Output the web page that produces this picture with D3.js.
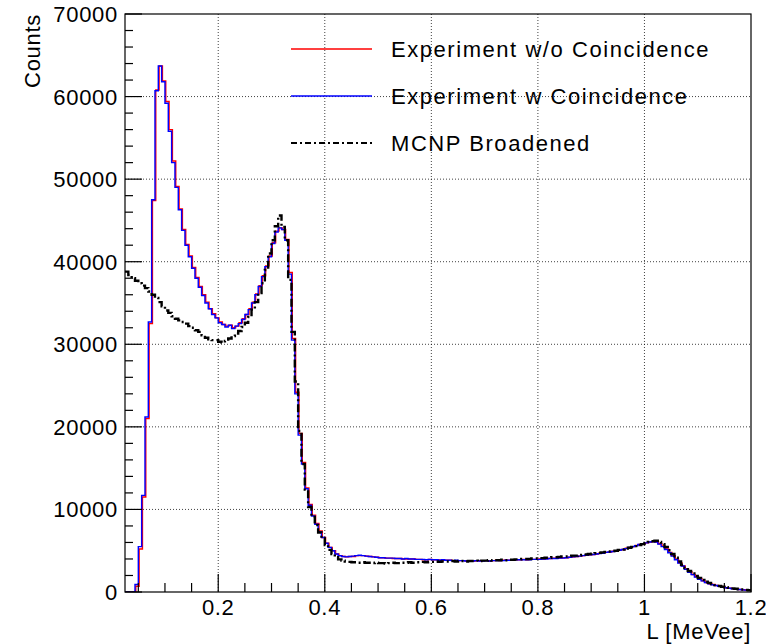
<!DOCTYPE html>
<html>
<head>
<meta charset="utf-8">
<script src="https://cdn.jsdelivr.net/npm/d3@7"></script>
<style>
  html, body { margin: 0; padding: 0; background: #fff; }
  svg { display: block; }
  text { font-family: "Liberation Sans", Arial, Helvetica, sans-serif; fill: #000; }
</style>
</head>
<body>
<svg id="chart" width="766" height="644"></svg>
<script>
// ---- data ----
const binStart = 0.025;       // MeVee, first bin low edge
const binWidth = 0.00625;     // MeVee
const redBinStart = 0.0265;   // slightly shifted calibration of the no-coincidence spectrum

const xTicks = [0.2, 0.4, 0.6, 0.8, 1.0, 1.2];
const xTickLabels = ["0.2", "0.4", "0.6", "0.8", "1", "1.2"];
const yTicks = [0, 10000, 20000, 30000, 40000, 50000, 60000, 70000];
const yTickLabels = ["0", "10000", "20000", "30000", "40000", "50000", "60000", "70000"];

const seriesNames = ["Experiment w/o Coincidence", "Experiment w Coincidence", "MCNP Broadened"];

const expWithCoinc = [
  0, 0, 0, 900, 5500, 11700, 21200, 32700,
  47500, 60700, 63700, 61800, 59200, 55800, 52000, 49000,
  46300, 43800, 42000, 40600, 39200, 38000, 36900, 35900,
  35000, 34300, 33600, 33200, 32600, 32400, 32100, 32300,
  31900, 32200, 32500, 33000, 33600, 34200, 35000, 36000,
  37000, 38200, 39400, 40600, 42200, 43600, 44100, 43900,
  42600, 38500, 30500, 24000, 19000, 15500, 12500, 10500,
  9200, 8200, 7300, 6600, 5900, 5400, 5000, 4600,
  4400, 4300, 4250, 4300, 4350, 4400, 4450, 4400,
  4350, 4300, 4250, 4200, 4150, 4150, 4100, 4100,
  4100, 4050, 4050, 4000, 4050, 4000, 4000, 3950,
  3950, 3950, 3900, 3950, 3900, 3900, 3850, 3900,
  3850, 3850, 3800, 3850, 3800, 3800, 3750, 3800,
  3750, 3800, 3750, 3750, 3800, 3750, 3800, 3800,
  3800, 3800, 3850, 3850, 3850, 3900, 3900, 3900,
  3900, 3900, 3950, 3950, 3950, 4000, 4000, 4050,
  4050, 4050, 4100, 4100, 4150, 4200, 4250, 4300,
  4350, 4400, 4450, 4500, 4550, 4600, 4650, 4700,
  4800, 4850, 4900, 5000, 5050, 5150, 5250, 5400,
  5500, 5600, 5750, 5850, 5950, 6050, 6100, 6050,
  5800, 5500, 5150, 4750, 4350, 3900, 3500, 3150,
  2750, 2400, 2100, 1800, 1550, 1350, 1150, 1000,
  880, 780, 680, 600, 520, 450, 390, 340,
  300, 260, 230, 200
];

const expWithoutCoinc = [
  0, 0, 0, 700, 5200, 11500, 21000, 32500,
  47400, 60800, 63700, 61900, 59400, 56000, 52200, 49100,
  46400, 43900, 42100, 40700, 39300, 38100, 37000, 36000,
  35100, 34300, 33700, 33200, 32700, 32400, 32200, 32300,
  32000, 32200, 32600, 33100, 33600, 34300, 35100, 36100,
  37100, 38300, 39500, 40700, 42300, 43700, 44100, 43900,
  42700, 38700, 30700, 24200, 19200, 15700, 12600, 10600,
  9300, 8300, 7400, 6600, 5900, 5400, 5000, 4600,
  4400, 4300, 4250, 4300, 4300, 4400, 4400, 4400,
  4350, 4300, 4250, 4200, 4150, 4150, 4100, 4100,
  4050, 4050, 4050, 4000, 4000, 4000, 4000, 3950,
  3950, 3900, 3900, 3950, 3900, 3900, 3850, 3850,
  3850, 3850, 3800, 3800, 3800, 3800, 3750, 3800,
  3750, 3800, 3750, 3800, 3800, 3750, 3800, 3850,
  3800, 3850, 3850, 3850, 3900, 3900, 3900, 3950,
  3900, 3950, 3950, 3950, 4000, 4000, 4050, 4050,
  4100, 4100, 4100, 4150, 4150, 4200, 4250, 4300,
  4350, 4400, 4450, 4500, 4550, 4600, 4700, 4750,
  4800, 4850, 4950, 5000, 5100, 5150, 5300, 5400,
  5500, 5650, 5750, 5850, 5950, 6050, 6100, 6050,
  5850, 5550, 5200, 4800, 4400, 3950, 3550, 3150,
  2800, 2450, 2100, 1850, 1600, 1350, 1150, 1000,
  900, 780, 690, 600, 520, 460, 390, 340,
  300, 270, 230, 200
];

const mcnpBroadened = [
  38800, 38400, 38000, 37700, 37400, 37100, 36800, 36400,
  36000, 35600, 35100, 34600, 34100, 33800, 33400, 33100,
  32900, 32700, 32500, 32200, 32000, 31700, 31500, 31100,
  30800, 30600, 30500, 30500, 30300, 30200, 30400, 30700,
  31000, 31300, 31600, 32100, 32600, 33300, 34200, 35100,
  36200, 37400, 39000, 41000, 42600, 44300, 45600, 44200,
  42600, 37800, 31500, 25500, 19500, 15500, 12400, 10300,
  9100, 8100, 7200, 6500, 5700, 5100, 4600, 4200,
  3950, 3800, 3700, 3650, 3600, 3600, 3550, 3600,
  3550, 3550, 3500, 3550, 3500, 3500, 3450, 3500,
  3550, 3500, 3500, 3550, 3550, 3600, 3550, 3600,
  3600, 3650, 3600, 3650, 3650, 3700, 3650, 3700,
  3700, 3700, 3750, 3700, 3750, 3750, 3700, 3750,
  3750, 3800, 3750, 3800, 3800, 3850, 3800, 3850,
  3850, 3900, 3850, 3900, 3900, 3950, 3950, 4000,
  4000, 4000, 4050, 4050, 4100, 4100, 4150, 4150,
  4200, 4200, 4250, 4300, 4300, 4350, 4400, 4400,
  4450, 4500, 4550, 4600, 4650, 4700, 4750, 4800,
  4850, 4900, 4950, 5000, 5100, 5150, 5250, 5350,
  5450, 5550, 5700, 5800, 5950, 6050, 6150, 6200,
  6050, 5800, 5450, 5050, 4600, 4150, 3700, 3300,
  2900, 2550, 2250, 1950, 1700, 1450, 1250, 1100,
  950, 830, 730, 640, 570, 500, 440, 390,
  340, 300, 260, 220
];

// ---- layout ----
const W = 766, H = 644;
const plot = { left: 125, top: 14, right: 751, bottom: 592 };
const FONT = 22;

const svg = d3.select("#chart");

const x = d3.scaleLinear().domain([0.025, 1.2]).range([plot.left, plot.right]);
const y = d3.scaleLinear().domain([0, 70000]).range([plot.bottom, plot.top]);

svg.append("defs").append("clipPath").attr("id", "clip")
  .append("rect")
  .attr("x", plot.left).attr("y", plot.top)
  .attr("width", plot.right - plot.left).attr("height", plot.bottom - plot.top);

// grid
const grid = svg.append("g").attr("stroke", "#000").attr("stroke-width", 1)
  .attr("stroke-dasharray", "1,2").attr("stroke-opacity", 0.75);
xTicks.filter(t => t < 1.2).forEach(t => {
  grid.append("line").attr("x1", x(t)).attr("x2", x(t))
    .attr("y1", plot.top).attr("y2", plot.bottom);
});
yTicks.filter(t => t > 0 && t < 70000).forEach(t => {
  grid.append("line").attr("x1", plot.left).attr("x2", plot.right)
    .attr("y1", y(t)).attr("y2", y(t));
});

// histogram step path builder
function stepPoints(values, start) {
  const pts = [];
  values.forEach((v, i) => {
    const x0 = start + i * binWidth;
    pts.push([x0, v], [x0 + binWidth, v]);
  });
  return pts;
}
const line = d3.line().x(d => x(d[0])).y(d => y(d[1]));

const curves = svg.append("g").attr("clip-path", "url(#clip)").attr("fill", "none");
curves.append("path").attr("d", line(stepPoints(expWithoutCoinc, redBinStart)))
  .attr("stroke", "#ff0000").attr("stroke-width", 1.4);
curves.append("path").attr("d", line(stepPoints(expWithCoinc, binStart)))
  .attr("stroke", "#0000ff").attr("stroke-width", 1.4);
curves.append("path").attr("d", line(stepPoints(mcnpBroadened, binStart)))
  .attr("stroke", "#000").attr("stroke-width", 2.4)
  .attr("stroke-dasharray", "8,3,2,3");

// frame
svg.append("rect").attr("x", plot.left).attr("y", plot.top)
  .attr("width", plot.right - plot.left).attr("height", plot.bottom - plot.top)
  .attr("fill", "none").attr("stroke", "#000").attr("stroke-width", 1.2);

// x ticks
const axes = svg.append("g").attr("stroke", "#000").attr("stroke-width", 1.2);
d3.range(0.05, 1.2001, 0.05).forEach(t => {
  const major = Math.abs(t / 0.2 - Math.round(t / 0.2)) < 1e-6;
  axes.append("line").attr("x1", x(t)).attr("x2", x(t))
    .attr("y1", plot.bottom).attr("y2", plot.bottom - (major ? 18 : 9));
});
// y ticks
d3.range(0, 70001, 2000).forEach(t => {
  const major = t % 10000 === 0;
  axes.append("line").attr("x1", plot.left).attr("x2", plot.left + (major ? 17 : 8))
    .attr("y1", y(t)).attr("y2", y(t));
});

// tick labels
xTicks.forEach((t, i) => {
  svg.append("text").attr("x", x(t)).attr("y", 615)
    .attr("text-anchor", "middle").attr("font-size", FONT)
    .attr("letter-spacing", 0.7)
    .text(xTickLabels[i]);
});
yTicks.forEach((t, i) => {
  svg.append("text").attr("x", 118).attr("y", y(t) + 8)
    .attr("text-anchor", "end").attr("font-size", FONT)
    .attr("letter-spacing", 0.7)
    .text(yTickLabels[i]);
});

// axis titles
svg.append("text").attr("x", 751).attr("y", 639)
  .attr("text-anchor", "end").attr("font-size", FONT).attr("letter-spacing", 0.7)
  .text("L [MeVee]");
svg.append("text").attr("transform", `translate(40,${plot.top}) rotate(-90)`)
  .attr("text-anchor", "end").attr("font-size", FONT).attr("letter-spacing", 0.7)
  .text("Counts");

// legend
const legendRows = [
  { name: seriesNames[0], color: "#ff0000", width: 1.4, dash: null },
  { name: seriesNames[1], color: "#0000ff", width: 1.4, dash: null },
  { name: seriesNames[2], color: "#000", width: 1.8, dash: "6,3,2,3" }
];
legendRows.forEach((r, i) => {
  const ly = 49 + i * 47;
  const ln = svg.append("line").attr("x1", 291).attr("x2", 372)
    .attr("y1", ly).attr("y2", ly)
    .attr("stroke", r.color).attr("stroke-width", r.width);
  if (r.dash) ln.attr("stroke-dasharray", r.dash);
  svg.append("text").attr("x", 391).attr("y", ly + 8)
    .attr("font-size", FONT).attr("letter-spacing", 1.55)
    .text(r.name);
});
</script>
</body>
</html>
